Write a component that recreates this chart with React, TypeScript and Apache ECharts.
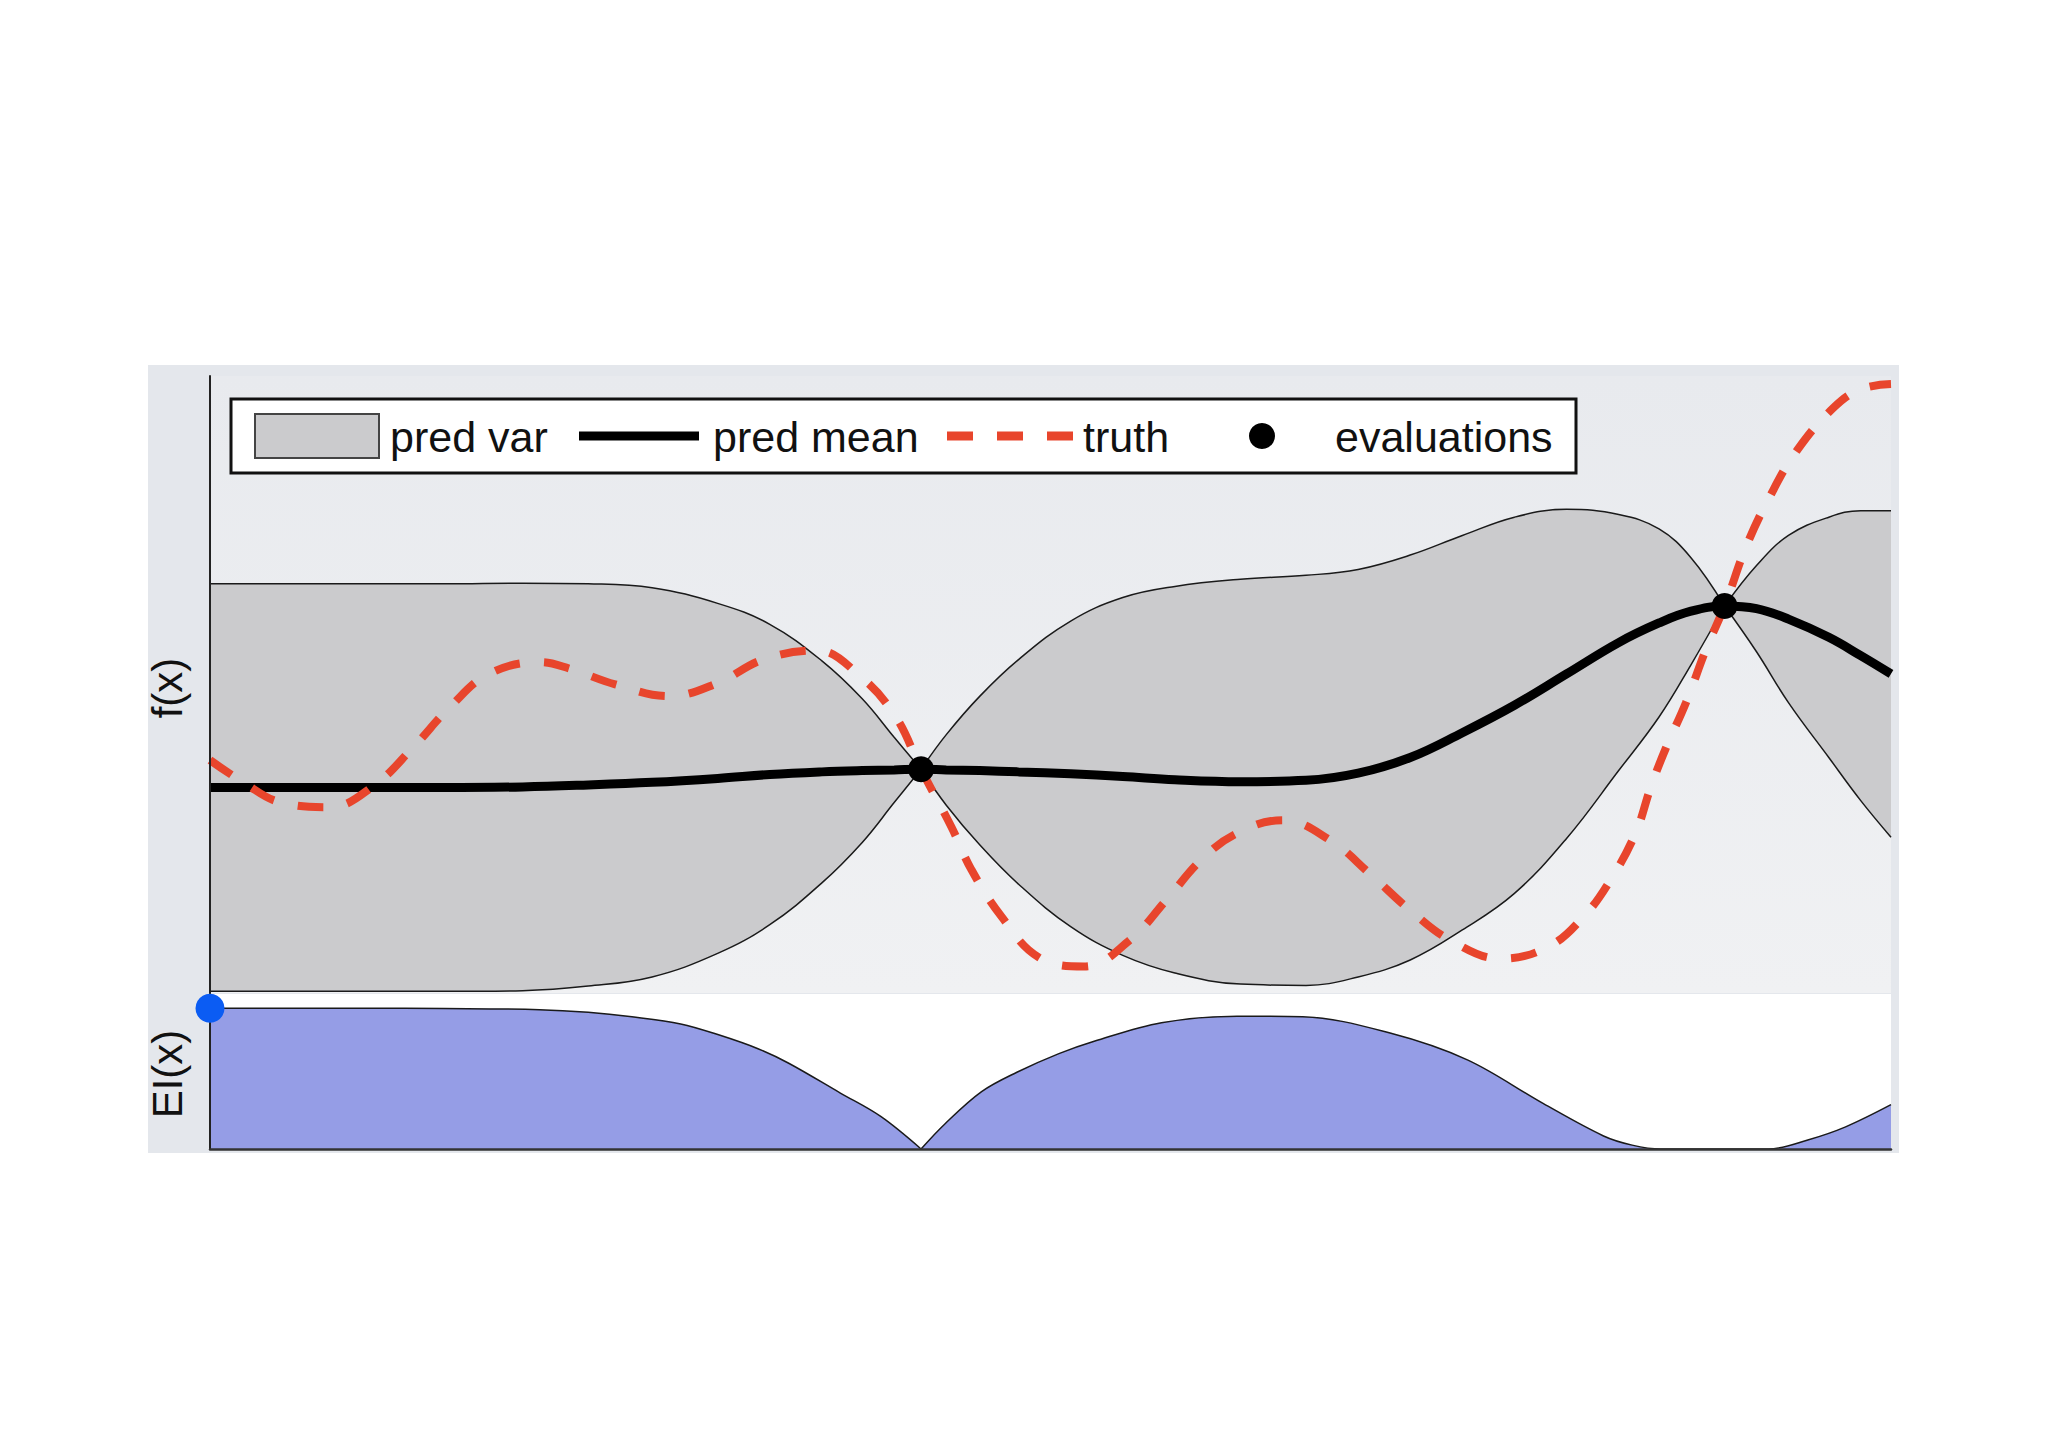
import React, { useEffect, useRef } from "react";
import * as echarts from "echarts";

// ---- data (x normalised 0..1) ----
const gridX = [0, 0.046, 0.092, 0.139, 0.186, 0.225, 0.263, 0.302, 0.333, 0.364, 0.388, 0.407, 0.423, 0.438, 0.458, 0.481, 0.512, 0.543, 0.574, 0.613, 0.652, 0.683, 0.714, 0.745, 0.776, 0.807, 0.838, 0.862, 0.881, 0.901, 0.92, 0.939, 0.963, 0.982, 1.0];
const predMean = [0, 0, 0, 0, 0.005, 0.02, 0.04, 0.07, 0.1, 0.12, 0.13, 0.135, 0.14, 0.135, 0.13, 0.12, 0.105, 0.085, 0.06, 0.045, 0.055, 0.11, 0.23, 0.42, 0.63, 0.87, 1.11, 1.26, 1.35, 1.39, 1.37, 1.29, 1.15, 1.01, 0.87];
const predSpread = [1.56, 1.56, 1.56, 1.56, 1.56, 1.54, 1.49, 1.34, 1.15, 0.85, 0.55, 0.25, 0, 0.27, 0.57, 0.86, 1.17, 1.37, 1.48, 1.55, 1.57, 1.56, 1.55, 1.51, 1.44, 1.26, 0.98, 0.72, 0.41, 0, 0.33, 0.64, 0.92, 1.11, 1.25];

const truthX = [0, 0.021, 0.041, 0.071, 0.097, 0.121, 0.143, 0.166, 0.196, 0.214, 0.241, 0.273, 0.302, 0.329, 0.361, 0.387, 0.408, 0.423, 0.441, 0.453, 0.471, 0.493, 0.52, 0.547, 0.569, 0.59, 0.611, 0.638, 0.666, 0.69, 0.714, 0.738, 0.768, 0.796, 0.817, 0.833, 0.848, 0.857, 0.866, 0.878, 0.89, 0.901, 0.914, 0.928, 0.944, 0.966, 0.982, 1.0];
const truthY = [0.21, 0.03, -0.11, -0.15, 0.01, 0.31, 0.62, 0.87, 0.96, 0.91, 0.79, 0.7, 0.8, 0.98, 1.05, 0.85, 0.54, 0.14, -0.3, -0.63, -0.99, -1.3, -1.37, -1.17, -0.86, -0.55, -0.35, -0.25, -0.4, -0.66, -0.94, -1.17, -1.31, -1.22, -0.99, -0.71, -0.35, 0.0, 0.3, 0.65, 1.06, 1.39, 1.85, 2.23, 2.58, 2.91, 3.05, 3.09];

const evalX = [0.423, 0.901];
const evalY = [0.14, 1.39];

const eiX = [0, 0.046, 0.092, 0.139, 0.196, 0.225, 0.251, 0.28, 0.303, 0.326, 0.344, 0.375, 0.399, 0.423, 0.437, 0.459, 0.48, 0.505, 0.526, 0.566, 0.611, 0.65, 0.702, 0.748, 0.793, 0.829, 0.846, 0.863, 0.888, 0.927, 0.951, 0.973, 1.0];
const eiY = [0.908, 0.908, 0.908, 0.906, 0.899, 0.882, 0.853, 0.807, 0.735, 0.647, 0.555, 0.361, 0.21, 0, 0.16, 0.37, 0.495, 0.615, 0.695, 0.815, 0.857, 0.853, 0.748, 0.575, 0.294, 0.084, 0.025, 0, 0, 0, 0.06, 0.143, 0.286];

const nextX = [0];
const nextY = [0.908];

const legendLabels = ["pred var", "pred mean", "truth", "evaluations"];
const axisLabels = ["f(x)", "EI(x)"];

// ---- style ----
const FONT = "'Liberation Sans', Arial, Helvetica, sans-serif";
const BAND = "#cbcbcd";
const RED = "#e8452c";
const EI_FILL = "#959de6";

function plotBg() {
  return {
    type: "linear", x: 0, y: 376, x2: 0, y2: 993, global: true,
    colorStops: [
      { offset: 0, color: "#e8eaee" },
      { offset: 1, color: "#f0f1f3" },
    ],
  };
}

function withBreaks(xs: number[], ys: number[], breaks: number[]) {
  const out: any[] = [];
  xs.forEach((x, i) => {
    out.push([x, ys[i]]);
    if (breaks.includes(x) && i > 0 && i < xs.length - 1) {
      out.push([x, "-"]);
      out.push([x, ys[i]]);
    }
  });
  return out;
}

export default function App() {
  const ref = useRef<HTMLDivElement>(null);
  useEffect(() => {
    if (!ref.current) return;
    const chart = echarts.init(ref.current, null, { renderer: "svg" });
    const upper = predMean.map((m, i) => m + predSpread[i]);
    const lower = predMean.map((m, i) => m - predSpread[i]);
    const truth = truthX.map((x, i) => [x, truthY[i]]);
    const mean = gridX.map((x, i) => [x, predMean[i]]);
    const evals = evalX.map((x, i) => [x, evalY[i]]);
    const ei = withBreaks(eiX, eiY, [evalX[0]]);
    const next = nextX.map((x, i) => [x, nextY[i]]);

    const option: any = {
      animation: false,
      backgroundColor: "#ffffff",
      grid: [
        { left: 210, top: 376, width: 1681, height: 617, show: false },
        { left: 210, top: 994, width: 1681, height: 155, show: false },
      ],
      xAxis: [
        { type: "value", gridIndex: 0, min: 0, max: 1, show: false },
        {
          type: "value", gridIndex: 1, min: 0, max: 1, z: 10,
          axisLine: { show: true, onZero: false, lineStyle: { color: "#333", width: 2.5 } },
          axisTick: { show: false }, axisLabel: { show: false }, splitLine: { show: false },
        },
      ],
      yAxis: [
        {
          type: "value", gridIndex: 0, min: -1.573, max: 3.151, z: 10,
          axisLine: { show: true, onZero: false, lineStyle: { color: "#222", width: 2 } },
          axisTick: { show: false }, axisLabel: { show: false }, splitLine: { show: false },
        },
        {
          type: "value", gridIndex: 1, min: 0, max: 1, z: 10,
          axisLine: { show: true, onZero: false, lineStyle: { color: "#222", width: 2 } },
          axisTick: { show: false }, axisLabel: { show: false }, splitLine: { show: false },
        },
      ],
      series: [
        {
          name: "pred var upper", type: "line", xAxisIndex: 0, yAxisIndex: 0,
          data: withBreaks(gridX, upper, evalX), smooth: 0.4, symbol: "none",
          lineStyle: { color: "#1a1a1a", width: 1.5 },
          areaStyle: { color: BAND, opacity: 1, origin: "start" },
        },
        {
          name: "pred var lower", type: "line", xAxisIndex: 0, yAxisIndex: 0,
          data: withBreaks(gridX, lower, evalX), smooth: 0.4, symbol: "none",
          lineStyle: { color: "#1a1a1a", width: 1.5 },
          areaStyle: { color: plotBg(), opacity: 1, origin: "start" },
        },
        {
          name: "pred mean", type: "line", xAxisIndex: 0, yAxisIndex: 0,
          data: mean, smooth: 0.4, symbol: "none",
          lineStyle: { color: "#000", width: 9 },
        },
        {
          name: "truth", type: "line", xAxisIndex: 0, yAxisIndex: 0,
          data: truth, smooth: 0.4, symbol: "none",
          lineStyle: { color: RED, width: 8, type: [26, 24], cap: "butt" },
        },
        {
          name: "evaluations", type: "scatter", xAxisIndex: 0, yAxisIndex: 0,
          data: evals, symbol: "circle", symbolSize: 26, itemStyle: { color: "#000", opacity: 1 },
          clip: false, z: 20,
        },
        {
          name: "EI", type: "line", xAxisIndex: 1, yAxisIndex: 1,
          data: ei, smooth: 0.35, symbol: "none",
          lineStyle: { color: "#1a1a1a", width: 1.5 },
          areaStyle: { color: EI_FILL, opacity: 1, origin: "start" },
        },
        {
          name: "next", type: "scatter", xAxisIndex: 1, yAxisIndex: 1,
          data: next, symbol: "circle", symbolSize: 29, itemStyle: { color: "#0b5cf3", opacity: 1 },
          clip: false, z: 20,
        },
      ],
      graphic: [
        { type: "rect", z: -10, shape: { x: 148, y: 365, width: 1751, height: 788 }, style: { fill: "#e4e7ec" } },
        { type: "rect", z: -9, shape: { x: 211, y: 376, width: 1680, height: 617 }, style: { fill: plotBg() } },
        { type: "rect", z: -9, shape: { x: 211, y: 994, width: 1680, height: 155 }, style: { fill: "#ffffff" } },
        // legend
        { type: "rect", z: 100, shape: { x: 231, y: 399, width: 1345, height: 74 }, style: { fill: "#ffffff", stroke: "#111", lineWidth: 3 } },
        { type: "rect", z: 101, shape: { x: 255, y: 414, width: 124, height: 44 }, style: { fill: BAND, stroke: "#444", lineWidth: 2 } },
        { type: "text", z: 101, x: 390, y: 437, style: { text: legendLabels[0], fill: "#111", font: `43px ${FONT}`, textAlign: "left", textVerticalAlign: "middle" } },
        { type: "line", z: 101, shape: { x1: 579, y1: 436, x2: 699, y2: 436 }, style: { stroke: "#000", lineWidth: 9 } },
        { type: "text", z: 101, x: 713, y: 437, style: { text: legendLabels[1], fill: "#111", font: `43px ${FONT}`, textAlign: "left", textVerticalAlign: "middle" } },
        { type: "line", z: 101, shape: { x1: 947, y1: 436, x2: 1073, y2: 436 }, style: { stroke: RED, lineWidth: 9, lineDash: [26, 24] } },
        { type: "text", z: 101, x: 1083, y: 437, style: { text: legendLabels[2], fill: "#111", font: `43px ${FONT}`, textAlign: "left", textVerticalAlign: "middle" } },
        { type: "circle", z: 101, shape: { cx: 1262, cy: 436, r: 13 }, style: { fill: "#000" } },
        { type: "text", z: 101, x: 1335, y: 437, style: { text: legendLabels[3], fill: "#111", font: `43px ${FONT}`, textAlign: "left", textVerticalAlign: "middle" } },
        // axis labels
        { type: "text", z: 101, x: 167, y: 688, rotation: Math.PI / 2, style: { text: axisLabels[0], fill: "#111", font: `42px ${FONT}`, textAlign: "center", textVerticalAlign: "middle" } },
        { type: "text", z: 101, x: 167, y: 1074, rotation: Math.PI / 2, style: { text: axisLabels[1], fill: "#111", font: `42px ${FONT}`, textAlign: "center", textVerticalAlign: "middle" } },
      ],
    };
    chart.setOption(option);
    return () => chart.dispose();
  }, []);
  return (
    <div
      ref={ref}
      style={{ position: "absolute", left: 0, top: 0, width: 2048, height: 1448 }}
    />
  );
}
